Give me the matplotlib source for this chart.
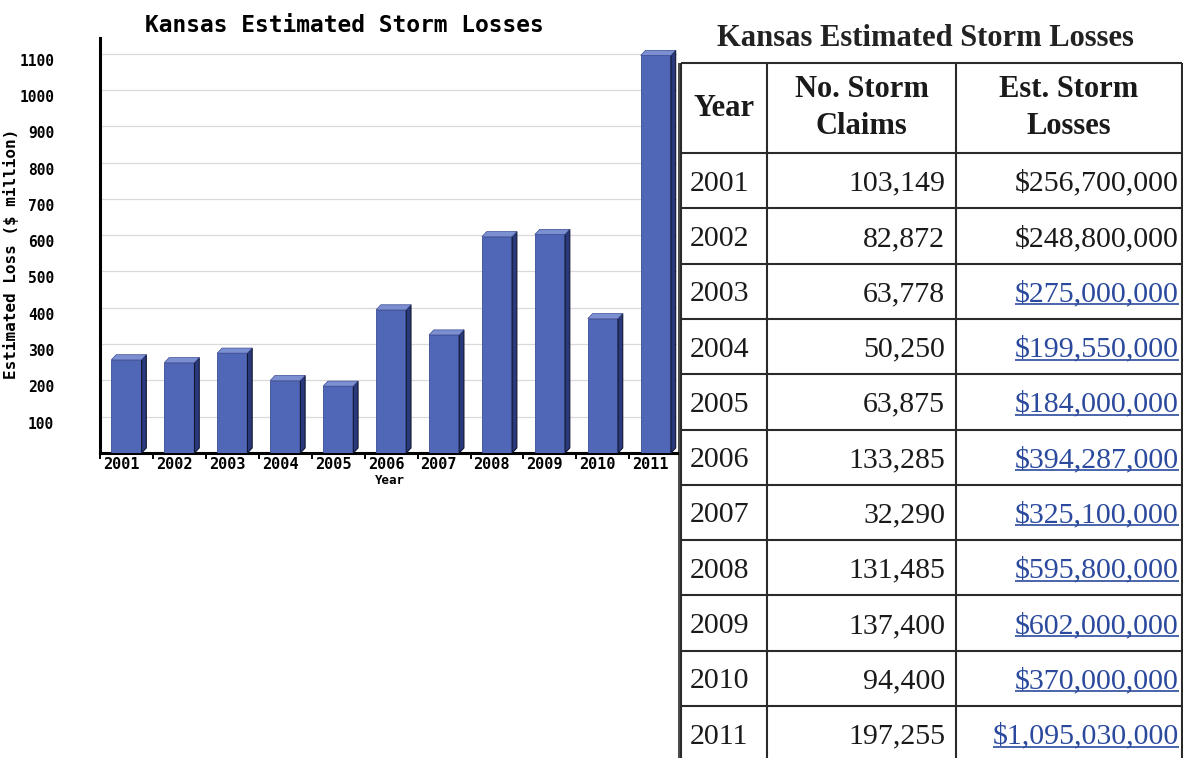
import matplotlib
matplotlib.use("Agg")
import matplotlib.pyplot as plt
from matplotlib.patches import Polygon
from matplotlib.transforms import ScaledTranslation

# data (table values, chart drawn in $ million)
years = ["2001", "2002", "2003", "2004", "2005", "2006",
         "2007", "2008", "2009", "2010", "2011"]
claims = [103149, 82872, 63778, 50250, 63875, 133285,
          32290, 131485, 137400, 94400, 197255]
losses = [256700000, 248800000, 275000000, 199550000, 184000000, 394287000,
          325100000, 595800000, 602000000, 370000000, 1095030000]
linked = [False, False, True, True, True, True, True, True, True, True, True]
y_ticks = list(range(100, 1200, 100))

W, H = 1183, 758
fig = plt.figure(figsize=(W / 100, H / 100), dpi=100)
fig.patch.set_facecolor("white")

mono = "DejaVu Sans Mono"
serif = "Liberation Serif"

# ---------------- bar chart ----------------
ax = fig.add_axes([100 / W, (H - 453) / H, 577 / W, 415 / H])
values_m = [v / 1e6 for v in losses]
xs = list(range(len(years)))
bw, dx, dy = 0.57, 0.09, 14
front, side, top = "#5066b6", "#2a387c", "#7c8fd0"

ax.bar(xs, values_m, width=bw, color=front, edgecolor="#3a4c96", linewidth=0.6, zorder=3)
for x, v in zip(xs, values_m):
    r, l = x + bw / 2, x - bw / 2
    ax.add_patch(Polygon([(r, 0), (r + dx, dy), (r + dx, v + dy), (r, v)],
                         closed=True, facecolor=side, edgecolor="#101830", lw=0.8, zorder=3))
    ax.add_patch(Polygon([(l, v), (l + dx, v + dy), (r + dx, v + dy), (r, v)],
                         closed=True, facecolor=top, edgecolor="#3a4c96", lw=0.5, zorder=3))

ax.set_xlim(-0.5, 10.4)
ax.set_ylim(0, 1143)
for s in ["top", "right"]:
    ax.spines[s].set_visible(False)
ax.spines["left"].set_linewidth(2.2)
ax.spines["bottom"].set_linewidth(2.2)
ax.set_axisbelow(True)
ax.yaxis.grid(True, color="#d9d9d9", linewidth=0.9)

ax.set_yticks(y_ticks)
ax.set_yticklabels([str(t) for t in y_ticks], fontfamily=mono, fontweight="bold", fontsize=10.5)
ax.tick_params(axis="y", length=0, pad=33)
for lbl in ax.get_yticklabels():
    lbl.set_transform(lbl.get_transform() + ScaledTranslation(0, -0.06, fig.dpi_scale_trans))

ax.set_xticks([x - 0.5 for x in xs])
ax.set_xticklabels(years, fontfamily=mono, fontweight="bold", fontsize=11)
ax.tick_params(axis="x", length=4, width=1.4, direction="out", pad=-1)
for lbl in ax.get_xticklabels():
    lbl.set_horizontalalignment("left")
    lbl.set_transform(lbl.get_transform() + ScaledTranslation(0.03, 0, fig.dpi_scale_trans))

ax.set_xlabel("Year", fontfamily=mono, fontweight="bold", fontsize=9)
ax.xaxis.set_label_coords((390 - 100) / 577, -0.05)
ax.set_ylabel("Estimated Loss ($ million)", fontfamily=mono, fontweight="bold", fontsize=11.5)
ax.yaxis.set_label_coords((19 - 100) / 577, 0.48)

fig.text(344 / W, 1 - 25 / H, "Kansas Estimated Storm Losses", fontfamily=mono,
         fontweight="bold", fontsize=16.5, ha="center", va="center")

# ---------------- table ----------------
tx = fig.add_axes([0, 0, 1, 1], zorder=-1)
tx.set_xlim(0, W)
tx.set_ylim(H, 0)
tx.axis("off")

col_x = [681, 767, 956, 1182]
head_top, head_bot, row_h = 63, 153, 55.3
line_c = "#2a2a2a"

tx.text(925, 38, "Kansas Estimated Storm Losses", fontfamily=serif,
        fontweight="bold", fontsize=22, ha="center", va="center", color="#222222")

row_lines = [head_top, head_bot] + [head_bot + row_h * (i + 1) for i in range(len(years))]
tx.hlines(row_lines, col_x[0], col_x[-1], color=line_c, lw=1.5)
tx.vlines(col_x, head_top, H, color=line_c, lw=1.5)
tx.vlines(col_x[0] - 1.5, head_top, H, color=line_c, lw=1.2)

hy = (head_top + head_bot) / 2
headers = ["Year", "No. Storm\nClaims", "Est. Storm\nLosses"]
for i, h in enumerate(headers):
    tx.text((col_x[i] + col_x[i + 1]) / 2, hy, h, fontfamily=serif, fontweight="bold",
            fontsize=22, ha="center", va="center", linespacing=1.4, color="#1a1a1a")

link_c = "#2b4a9e"
links = []
for i, (yr, c, v, lk) in enumerate(zip(years, claims, losses, linked)):
    base = head_bot + row_h * i + row_h / 2 + 10
    tx.text(col_x[0] + 9, base, yr, fontfamily=serif, fontsize=21.5, ha="left",
            va="baseline", color="#1a1a1a")
    tx.text(col_x[2] - 11, base, f"{c:,}", fontfamily=serif, fontsize=21.5, ha="right",
            va="baseline", color="#1a1a1a")
    t = tx.text(col_x[3] - 3, base, f"${v:,}", fontfamily=serif, fontsize=21.5, ha="right",
                va="baseline", color=link_c if lk else "#1a1a1a")
    if lk:
        links.append((t, base))

fig.canvas.draw()
for t, base in links:
    bb = t.get_window_extent()
    tx.hlines(base + 3, bb.x0, bb.x1, color=link_c, lw=1.2)

fig.savefig("out.png", dpi=100)
